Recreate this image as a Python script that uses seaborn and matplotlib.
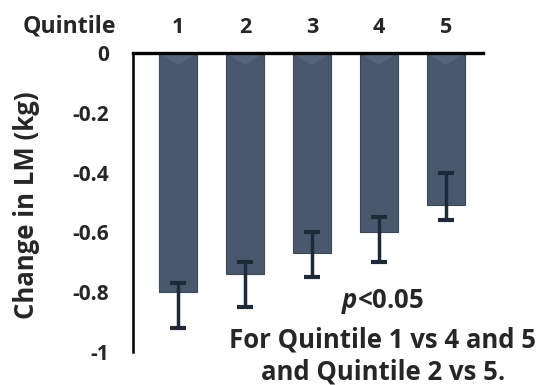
import matplotlib
matplotlib.use("Agg")
import matplotlib.pyplot as plt
import seaborn as sns
import numpy as np
import pandas as pd

# Data
quintiles = ["1", "2", "3", "4", "5"]
change_lm = [-0.80, -0.74, -0.67, -0.60, -0.51]
err_upper = [-0.77, -0.70, -0.60, -0.55, -0.40]   # top cap of error bar
err_lower = [-0.92, -0.85, -0.75, -0.70, -0.56]   # bottom cap of error bar
y_ticks = [0, -0.2, -0.4, -0.6, -0.8, -1]
y_tick_labels = ["0", "-0.2", "-0.4", "-0.6", "-0.8", "-1"]

df = pd.DataFrame({"Quintile": quintiles, "Change": change_lm})

sns.set_style("white")
plt.rcParams["font.family"] = ["Open Sans", "DejaVu Sans"]
plt.rcParams["font.weight"] = "bold"
plt.rcParams["mathtext.fontset"] = "custom"
plt.rcParams["mathtext.it"] = "Open Sans:italic:bold"
plt.rcParams["mathtext.rm"] = "Open Sans:bold"

fig = plt.figure(figsize=(5.43, 3.85), dpi=100)
ax = fig.add_axes([0.245, 0.086, 0.644, 0.776])

bar_color = "#4a586e"
sns.barplot(data=df, x="Quintile", y="Change", color=bar_color, width=0.57,
            saturation=1, edgecolor="#3c475a", linewidth=0.8, ax=ax)

# soft lighter bevel at the top of each bar
for p in ax.patches:
    x0, w = p.get_x(), p.get_width()
    ax.fill([x0, x0 + w, x0 + w / 2], [0, 0, -0.04], color="#6c7b92",
            alpha=0.35, lw=0, zorder=2.5)

# asymmetric error bars
means = np.array(change_lm)
yerr = np.vstack([means - np.array(err_lower), np.array(err_upper) - means])
ax.errorbar(np.arange(len(quintiles)), means, yerr=yerr, fmt="none",
            ecolor="#1f2a38", elinewidth=2.5, capsize=6, capthick=3, zorder=3)

ax.set_ylim(-1, 0)
ax.set_xlim(-0.67, 4.55)
ax.set_yticks(y_ticks)
ax.set_yticklabels(y_tick_labels, fontsize=15, fontweight="bold")
ax.xaxis.tick_top()
ax.set_xticks(range(len(quintiles)))
ax.set_xticklabels(quintiles, fontsize=15.5, fontweight="bold")
ax.tick_params(axis="x", length=0, pad=11)
ax.tick_params(axis="y", length=11, width=1.8, pad=6, color="black", direction="out")
ax.set_xlabel("")
ax.set_ylabel("Change in LM (kg)", fontsize=18.5, fontweight="bold")
ax.yaxis.set_label_coords(-0.265, 0.49)

for side in ["right", "bottom"]:
    ax.spines[side].set_visible(False)
ax.spines["left"].set_linewidth(1.8)
ax.spines["left"].set_color("black")
ax.spines["top"].set_linewidth(2.4)
ax.spines["top"].set_color("black")
ax.spines["top"].set_zorder(4)

fig.text(0.127, 0.932, "Quintile", fontsize=16.7, fontweight="bold", ha="center", va="center")

fig.text(0.705, 0.216, r"$\mathit{p}$<0.05", fontsize=18.5, fontweight="bold",
         ha="center", va="center")
fig.text(0.705, 0.117, "For Quintile 1 vs 4 and 5", fontsize=18.5, fontweight="bold",
         ha="center", va="center")
fig.text(0.705, 0.034, "and Quintile 2 vs 5.", fontsize=18.5, fontweight="bold",
         ha="center", va="center")

fig.savefig("out.png", dpi=100)
